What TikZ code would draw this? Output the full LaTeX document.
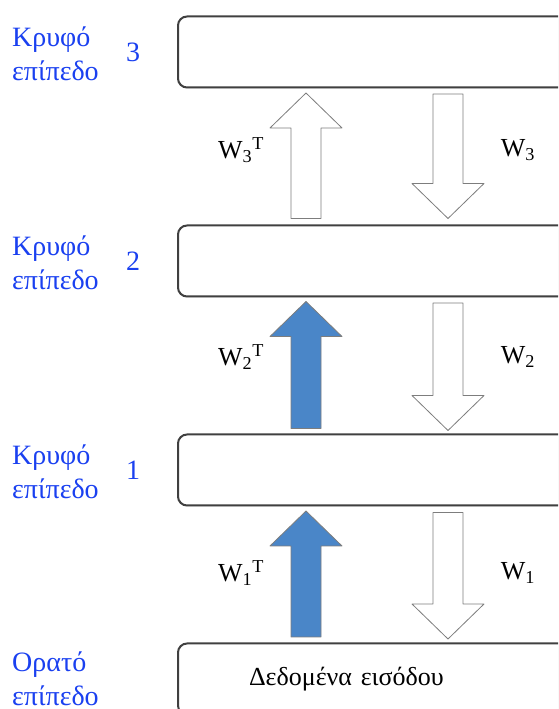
\documentclass[tikz,border=0pt]{standalone}
\usepackage{fontspec}
\setmainfont{Liberation Serif}
\usetikzlibrary{calc,shadows}

\definecolor{layerblue}{RGB}{26,64,240}
\definecolor{arrowblue}{RGB}{74,134,200}
\definecolor{arrowedge}{RGB}{125,125,125}

% block arrow at x=#1 from the tail point #2 to the tip point #3
\newcommand{\blockarrow}[4]{%
  \filldraw[#4] let \p1=(#2), \p2=(#3), \n1={sign(\y2-\y1)} in
    ({#1pt-15pt},\y1) -- ({#1pt-15pt},{\y2-35pt*(\n1)}) -- ({#1pt-36pt},{\y2-35pt*(\n1)})
    -- (#1pt,\y2) -- ({#1pt+36pt},{\y2-35pt*(\n1)}) -- ({#1pt+15pt},{\y2-35pt*(\n1)})
    -- ({#1pt+15pt},\y1) -- cycle;}

\begin{document}
\begin{tikzpicture}[x=1pt,y=1pt]
        \def\boxw{400}
        \def\boxh{71}
        \tikzstyle{layer}=[draw=black!75, line width=2pt, fill=white, rounded corners=9pt,
            minimum width=\boxw, minimum height=\boxh, anchor=west,
            drop shadow={shadow xshift=0.8pt, shadow yshift=-1pt, opacity=0.4}]
        \tikzstyle{side}=[text=layerblue, align=left, anchor=west, inner sep=0pt,
            font=\fontsize{28}{34}\selectfont]
        \tikzstyle{num}=[text=layerblue, font=\fontsize{28}{34}\selectfont]
        \tikzstyle{weight}=[font=\fontsize{26}{30}\selectfont]
        \tikzstyle{blueup}=[fill=arrowblue, draw=arrowedge, line width=0.8pt, line join=round]
        \tikzstyle{open}=[fill=white, draw=arrowedge, line width=0.8pt, line join=round]

        \useasboundingbox (0,0) rectangle (558,709);
        \clip (0,0) rectangle (558,709);

        % Nodes
        \node[layer] (h3) at (177,657) {};
        \node[layer] (h2) at (177,448) {};
        \node[layer] (h1) at (177,239) {};
        \node[layer, text width=258, inner xsep=70, align=left,
            font=\fontsize{26}{30}\selectfont] (in) at (177,30) {Δεδομένα εισόδου};

        \node[side] (l3) at (12,655) {Κρυφό\\επίπεδο};
        \node[num] (n3) at (133,657) {3};
        \node[side] (l2) at (12,446) {Κρυφό\\επίπεδο};
        \node[num] (n2) at (133,448) {2};
        \node[side] (l1) at (12,237) {Κρυφό\\επίπεδο};
        \node[num] (n1) at (133,239) {1};
        \node[side] (l0) at (12,30) {Ορατό\\επίπεδο};

        \node[weight] (w3t) at (241,559) {W\textsubscript{3}\textsuperscript{T}};
        \node[weight] (w3) at (518,559) {W\textsubscript{3}};
        \node[weight] (w2t) at (241,352) {W\textsubscript{2}\textsuperscript{T}};
        \node[weight] (w2) at (518,352) {W\textsubscript{2}};
        \node[weight] (w1t) at (241,136) {W\textsubscript{1}\textsuperscript{T}};
        \node[weight] (w1) at (518,136) {W\textsubscript{1}};

        % Edges
        \blockarrow{306}{[yshift=6pt]h2.north}{[yshift=-4.5pt]h3.south}{open}
        \blockarrow{448}{[yshift=-5.5pt]h3.south}{[yshift=6pt]h2.north}{open}

        \blockarrow{306}{[yshift=5pt]h1.north}{[yshift=-4pt]h2.south}{blueup}
        \blockarrow{448}{[yshift=-5.5pt]h2.south}{[yshift=3pt]h1.north}{open}

        \blockarrow{306}{[yshift=5.5pt]in.north}{[yshift=-4.5pt]h1.south}{blueup}
        \blockarrow{448}{[yshift=-6pt]h1.south}{[yshift=3.5pt]in.north}{open}

    \end{tikzpicture}
\end{document}
